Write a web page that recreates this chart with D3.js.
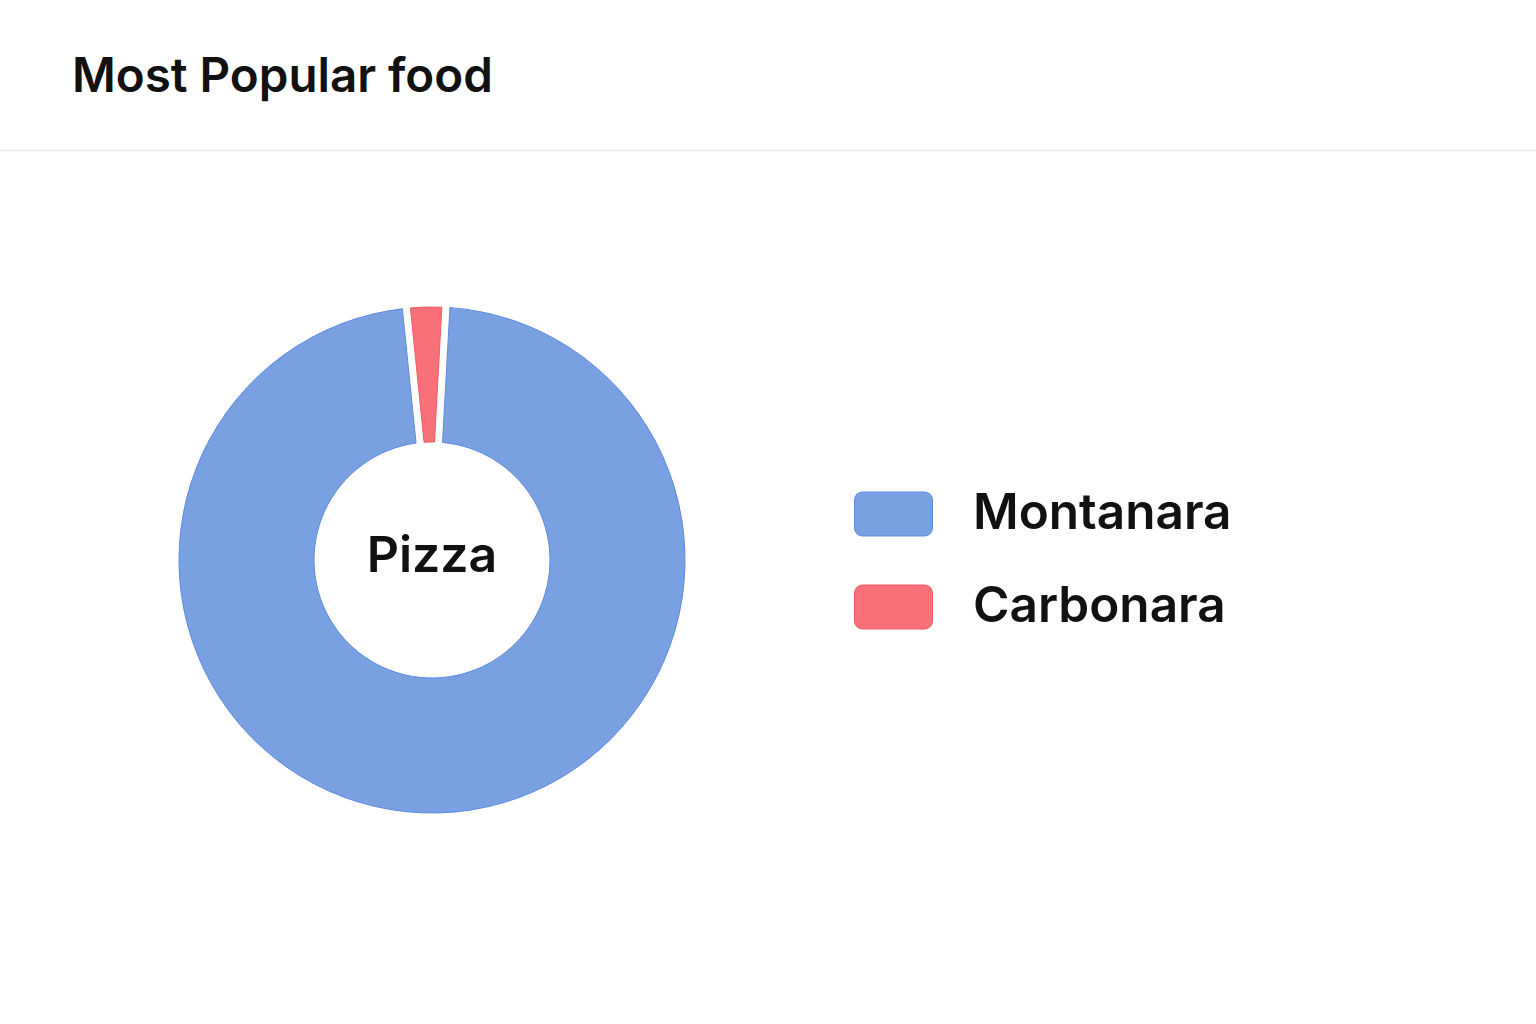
<!DOCTYPE html>
<html>
<head>
<meta charset="utf-8">
<script src="https://cdn.jsdelivr.net/npm/d3@7"></script>
<style>
  html, body { margin: 0; padding: 0; background: #fff; }
  svg { display: block; font-family: Inter, "Noto Sans", sans-serif; }
</style>
</head>
<body>
<svg id="chart" width="1536" height="1024"></svg>
<script>
const title = "Most Popular food";
const centerLabel = "Pizza";
const categories = ["Montanara", "Carbonara"];
const values = [98, 2];
const fillColors = ["#79a0e0", "#f87179"];
const strokeColors = ["#5b8be0", "#f25a64"];

const svg = d3.select("#chart");
const W = 1536, H = 1024;

svg.append("text")
  .attr("x", 72).attr("y", 92)
  .attr("font-size", 47.5).attr("font-weight", 600).attr("fill", "#111")
  .text(title);

svg.append("line")
  .attr("x1", 0).attr("x2", W).attr("y1", 150.5).attr("y2", 150.5)
  .attr("stroke", "#e6e6e6").attr("stroke-width", 1.5);

const cx = 432, cy = 560, rOuter = 253, rInner = 118;
const startOffset = 0.055;
const pie = d3.pie().sort(null)
  .startAngle(startOffset).endAngle(startOffset + 2 * Math.PI)
  .padAngle(0.032);
const arc = d3.arc().innerRadius(rInner).outerRadius(rOuter).padRadius(rOuter);

const data = categories.map((c, i) => ({ name: c, value: values[i], i }));
const g = svg.append("g").attr("transform", `translate(${cx},${cy})`);
g.selectAll("path").data(pie.value(d => d.value)(data)).join("path")
  .attr("d", arc)
  .attr("fill", d => fillColors[d.data.i])
  .attr("stroke", d => strokeColors[d.data.i])
  .attr("stroke-width", 1);

g.append("text")
  .attr("x", 0).attr("y", 12)
  .attr("text-anchor", "middle")
  .attr("font-size", 50).attr("font-weight", 600).attr("fill", "#111")
  .text(centerLabel);

const legend = svg.append("g");
const ly = d3.scalePoint().domain(categories).range([514, 607]);
const items = legend.selectAll("g").data(data).join("g")
  .attr("transform", d => `translate(854,${ly(d.name)})`);
items.append("rect")
  .attr("x", 0.5).attr("y", -22).attr("width", 78).attr("height", 44)
  .attr("rx", 8)
  .attr("fill", d => fillColors[d.i])
  .attr("stroke", d => strokeColors[d.i]).attr("stroke-width", 1);
items.append("text")
  .attr("x", 119).attr("y", 15)
  .attr("font-size", 49.5).attr("font-weight", 600).attr("fill", "#111")
  .text(d => d.name);
</script>
</body>
</html>
